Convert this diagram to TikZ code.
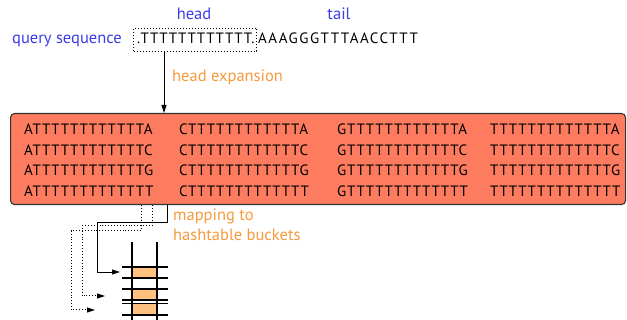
\documentclass[tikz,border=0pt]{standalone}
\usepackage{fontspec}
\setmainfont{PT Sans}
\newfontfamily\seqfont[LetterSpace=5]{PT Sans}
\newfontfamily\tailfont[LetterSpace=10]{PT Sans}
\usetikzlibrary{arrows.meta}
\definecolor{qblue}{HTML}{3C3CE6}
\definecolor{qorange}{HTML}{F79A3C}
\definecolor{boxfill}{HTML}{FD7B5E}
\definecolor{cellfill}{HTML}{FFC180}
\tikzset{
  lbl/.style={inner sep=0pt, anchor=base west, font=\fontsize{16.5}{18}\selectfont},
  seq/.style={inner sep=0pt, anchor=base west, font=\fontsize{15}{17}\seqfont},
  arr/.style={-{Triangle[length=8pt,width=5pt]}, line width=0.9pt},
  dot/.style={dotted, line width=1pt},
  hline/.style={line width=1.2pt},
}
\begin{document}
\begin{tikzpicture}[x=1pt,y=-1pt]
\useasboundingbox (0,0) rectangle (627,320);
% top line
\node[lbl, text=qblue] (qs) at (12,44) {query sequence};
\node[lbl, text=qblue, anchor=base] (head) at (194,20) {head};
\node[lbl, text=qblue, anchor=base] (tail) at (339,20) {tail};
\node[draw, dotted, line width=1pt, minimum width=123pt, minimum height=23pt, anchor=north west, inner sep=0pt] (hbox) at (133,28) {};
\node[seq] (hseq) at (137,44) {.TTTTTTTTTTTT.};
\node[seq, font=\fontsize{15}{17}\tailfont] (tseq) at (258,44) {AAAGGGTTTAACCTTT};
% box
\node[draw=black!80, fill=boxfill, line width=1.1pt, rounded corners=4pt, anchor=north west, minimum width=615pt, minimum height=91pt, inner sep=0pt] (box) at (10,113) {};
\coordinate (arrtop) at (164,52);
\draw[arr] (arrtop) -- (arrtop |- box.north);
\node[lbl, text=qorange] (hexp) at (172,82) {head expansion};
% sequences
\foreach \x/\c in {24/A,179/C,337/G,490/T}{
  \foreach \y/\e in {135/A,155.5/C,176/G,196.5/T}{
    \node[seq] at (\x,\y) {\c TTTTTTTTTTTT\e};
  }
}
\node[lbl, text=qorange] (map1) at (173,221) {mapping to};
\node[lbl, text=qorange] (map2) at (173,241) {hashtable buckets};
% hashtable
\fill[cellfill] (132,267) rectangle (157,278);
\fill[cellfill] (132,289) rectangle (157,300);
\fill[cellfill] (132,304) rectangle (157,315);
\draw[hline] (132,242) -- (132,320);
\draw[hline] (157,242) -- (157,320);
\foreach \y in {267,278,289,300,303.5,315}{
  \draw[hline] (122,\y) -- (168,\y);
}
\coordinate (t1) at (120,272);
\coordinate (t2) at (105,296);
\coordinate (t3) at (95,310);
% connectors
\draw[arr] (box.south -| 167,0) |- (97,222) |- (t1);
\draw[arr, dot] (box.south -| 152,0) |- (82,226) |- (t2);
\draw[arr, dot] (box.south -| 141,0) |- (71,231) |- (t3);
\end{tikzpicture}
\end{document}
